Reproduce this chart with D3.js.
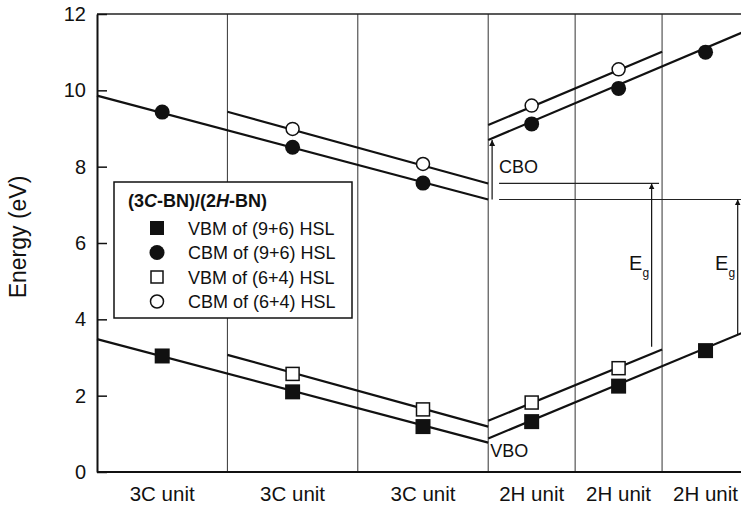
<!DOCTYPE html>
<html>
<head>
<meta charset="utf-8">
<script src="https://cdn.jsdelivr.net/npm/d3@7"></script>
<style>
  body { margin: 0; background: #fff; }
  svg { display: block; font-family: 'Liberation Sans', Arial, sans-serif; }
</style>
</head>
<body>
<div id="chart"></div>
<script>
// x is counted in layers: a 3C unit is 3 layers, a 2H unit is 2 layers
let yTicks = [0, 2, 4, 6, 8, 10, 12]
let unitBounds = [0, 3, 6, 9, 11, 13, 15]
let unitLabels = ['3C unit', '3C unit', '3C unit', '2H unit', '2H unit', '2H unit']
let pointLayers = [1.5, 4.5, 7.5, 10, 12, 14]

let vbm96 = [3.04, 2.1, 1.19, 1.32, 2.25, 3.18]
let cbm96 = [9.43, 8.51, 7.57, 9.12, 10.05, 11.0]
let vbm64 = [null, 2.57, 1.64, 1.82, 2.72, null]
let cbm64 = [null, 8.99, 8.07, 9.6, 10.55, null]

// band lines [layer, energy] end points
let cbm96Lines = [[[0, 9.86], [9, 7.14]], [[9, 8.7], [15, 11.59]]]
let cbm64Lines = [[[3, 9.44], [9, 7.56]], [[9, 9.09], [13, 11.01]]]
let vbm96Lines = [[[0, 3.48], [9, 0.77]], [[9, 0.88], [15, 3.72]]]
let vbm64Lines = [[[3, 3.07], [9, 1.19]], [[9, 1.34], [13, 3.21]]]

// offsets: [layer, from, to]
let arrows = [[9.09, 7.14, 8.7], [12.76, 3.28, 7.56], [14.74, 3.6, 7.14]]
let refLines = [[9.25, 12.93, 7.56], [9.25, 15, 7.14]]

let legendItems = [
  { label: 'VBM of (9+6) HSL', shape: 'square', filled: true },
  { label: 'CBM of (9+6) HSL', shape: 'circle', filled: true },
  { label: 'VBM of (6+4) HSL', shape: 'square', filled: false },
  { label: 'CBM of (6+4) HSL', shape: 'circle', filled: false }
]

let margin = { top: 14, left: 97, right: 0, bottom: 36 }
let width = 741 - margin.left
let height = 508 - margin.top - margin.bottom

let svg = d3
  .select('#chart')
  .append('svg')
  .attr('width', 741)
  .attr('height', 508)

svg
  .append('defs')
  .append('marker')
  .attr('id', 'arrow')
  .attr('viewBox', '0 0 10 10')
  .attr('refX', 10)
  .attr('refY', 5)
  .attr('markerWidth', 6)
  .attr('markerHeight', 11)
  .attr('markerUnits', 'userSpaceOnUse')
  .attr('orient', 'auto')
  .append('path')
  .attr('d', 'M0,0L10,5L0,10Z')
  .attr('fill', '#111')

let g = svg
  .append('g')
  .attr('transform', 'translate(' + margin.left + ',' + margin.top + ')')

let xPositionScale = d3.scaleLinear().domain([0, 15]).range([0, 652])
let yPositionScale = d3.scaleLinear().domain([0, 12]).range([height, 0])

// unit boundaries
g.selectAll('.grid')
  .data(unitBounds.slice(1, -1))
  .enter()
  .append('line')
  .attr('class', 'grid')
  .attr('x1', d => xPositionScale(d))
  .attr('x2', d => xPositionScale(d))
  .attr('y1', 0)
  .attr('y2', height)
  .attr('stroke', '#333')
  .attr('stroke-width', 1)

// top frame
g.append('line')
  .attr('x1', 0)
  .attr('x2', width)
  .attr('y1', 0)
  .attr('y2', 0)
  .attr('stroke', '#222')
  .attr('stroke-width', 1.5)

let yAxis = d3
  .axisLeft(yPositionScale)
  .tickValues(yTicks)
  .tickSizeInner(-10)
  .tickSizeOuter(0)
  .tickPadding(11)
g.append('g')
  .attr('class', 'axis y-axis')
  .call(yAxis)
g.selectAll('.y-axis .domain').attr('stroke', '#111').attr('stroke-width', 2)
g.selectAll('.y-axis .tick line').attr('stroke', '#111').attr('stroke-width', 1.5)
g.selectAll('.y-axis text')
  .attr('font-size', 20)
  .attr('fill', '#111')
  .attr('font-family', "'Liberation Sans', Arial, sans-serif")

g.append('line')
  .attr('x1', 0)
  .attr('x2', width)
  .attr('y1', height)
  .attr('y2', height)
  .attr('stroke', '#111')
  .attr('stroke-width', 2)

g.selectAll('.unit-label')
  .data(unitLabels)
  .enter()
  .append('text')
  .attr('class', 'unit-label')
  .attr('x', (d, i) => xPositionScale((unitBounds[i] + unitBounds[i + 1]) / 2))
  .attr('y', height + 29)
  .attr('text-anchor', 'middle')
  .attr('font-size', 20.5)
  .attr('fill', '#111')
  .text(d => d)

svg
  .append('text')
  .attr('transform', 'translate(26,237) rotate(-90)')
  .attr('text-anchor', 'middle')
  .attr('font-size', 23)
  .attr('fill', '#111')
  .text('Energy (eV)')

let line = d3
  .line()
  .x(d => xPositionScale(d[0]))
  .y(d => yPositionScale(d[1]))

let allLines = [].concat(cbm96Lines, cbm64Lines, vbm96Lines, vbm64Lines)
g.selectAll('.band-line')
  .data(allLines)
  .enter()
  .append('path')
  .attr('class', 'band-line')
  .attr('d', d => line(d))
  .attr('fill', 'none')
  .attr('stroke', '#111')
  .attr('stroke-width', 2.2)

// reference lines and offset arrows
g.selectAll('.ref-line')
  .data(refLines)
  .enter()
  .append('line')
  .attr('class', 'ref-line')
  .attr('x1', d => xPositionScale(d[0]))
  .attr('x2', d => xPositionScale(d[1]))
  .attr('y1', d => yPositionScale(d[2]))
  .attr('y2', d => yPositionScale(d[2]))
  .attr('stroke', '#222')
  .attr('stroke-width', 1.2)

g.selectAll('.offset-arrow')
  .data(arrows)
  .enter()
  .append('line')
  .attr('class', 'offset-arrow')
  .attr('x1', d => xPositionScale(d[0]))
  .attr('x2', d => xPositionScale(d[0]))
  .attr('y1', d => yPositionScale(d[1]))
  .attr('y2', d => yPositionScale(d[2]))
  .attr('stroke', '#111')
  .attr('stroke-width', 1.2)
  .attr('marker-end', 'url(#arrow)')

g.append('text')
  .attr('x', xPositionScale(9.25))
  .attr('y', yPositionScale(8.0) + 6)
  .attr('font-size', 18)
  .attr('fill', '#111')
  .text('CBO')

g.append('text')
  .attr('x', xPositionScale(9.05))
  .attr('y', yPositionScale(0.55) + 6)
  .attr('font-size', 18)
  .attr('fill', '#111')
  .text('VBO')

let egLabels = [12.24, 14.22]
egLabels.forEach(d => {
  let t = g
    .append('text')
    .attr('x', xPositionScale(d))
    .attr('y', yPositionScale(5.3))
    .attr('font-size', 20)
    .attr('fill', '#111')
  t.append('tspan').text('E')
  t.append('tspan')
    .attr('font-size', 12)
    .attr('dy', 7)
    .text('g')
})

// data markers
function drawMarkers(values, shape, filled) {
  let pts = values
    .map((v, i) => ({ x: pointLayers[i], y: v }))
    .filter(d => d.y !== null)
  if (shape === 'circle') {
    g.selectAll('.m-' + shape + filled)
      .data(pts)
      .enter()
      .append('circle')
      .attr('cx', d => xPositionScale(d.x))
      .attr('cy', d => yPositionScale(d.y))
      .attr('r', filled ? 7.5 : 6.5)
      .attr('fill', filled ? '#111' : '#fff')
      .attr('stroke', '#111')
      .attr('stroke-width', filled ? 0 : 1.5)
  } else {
    let s = filled ? 15 : 13
    g.selectAll('.m-' + shape + filled)
      .data(pts)
      .enter()
      .append('rect')
      .attr('x', d => xPositionScale(d.x) - s / 2)
      .attr('y', d => yPositionScale(d.y) - s / 2)
      .attr('width', s)
      .attr('height', s)
      .attr('fill', filled ? '#111' : '#fff')
      .attr('stroke', '#111')
      .attr('stroke-width', filled ? 0 : 1.5)
  }
}
drawMarkers(cbm96, 'circle', true)
drawMarkers(cbm64, 'circle', false)
drawMarkers(vbm96, 'square', true)
drawMarkers(vbm64, 'square', false)

// legend
let legend = svg.append('g').attr('transform', 'translate(114,182)')
legend
  .append('rect')
  .attr('width', 238)
  .attr('height', 136)
  .attr('fill', '#fff')
  .attr('stroke', '#111')
  .attr('stroke-width', 1.5)

let title = legend
  .append('text')
  .attr('x', 14)
  .attr('y', 25)
  .attr('font-size', 18)
  .attr('font-weight', 'bold')
  .attr('fill', '#111')
title.append('tspan').text('(3')
title.append('tspan').attr('font-style', 'italic').text('C')
title.append('tspan').text('-BN)/(2')
title.append('tspan').attr('font-style', 'italic').text('H')
title.append('tspan').text('-BN)')

let items = legend
  .selectAll('.legend-item')
  .data(legendItems)
  .enter()
  .append('g')
  .attr('class', 'legend-item')
  .attr('transform', (d, i) => 'translate(43,' + (46 + i * 24.5) + ')')

items.each(function(d) {
  let el = d3.select(this)
  if (d.shape === 'circle') {
    el.append('circle')
      .attr('r', d.filled ? 7.5 : 6.5)
      .attr('fill', d.filled ? '#111' : '#fff')
      .attr('stroke', '#111')
      .attr('stroke-width', d.filled ? 0 : 1.5)
  } else {
    let s = d.filled ? 14 : 12
    el.append('rect')
      .attr('x', -s / 2)
      .attr('y', -s / 2)
      .attr('width', s)
      .attr('height', s)
      .attr('fill', d.filled ? '#111' : '#fff')
      .attr('stroke', '#111')
      .attr('stroke-width', d.filled ? 0 : 1.5)
  }
})

items
  .append('text')
  .attr('x', 31)
  .attr('y', 6.5)
  .attr('font-size', 18)
  .attr('fill', '#111')
  .text(d => d.label)
</script>
</body>
</html>
